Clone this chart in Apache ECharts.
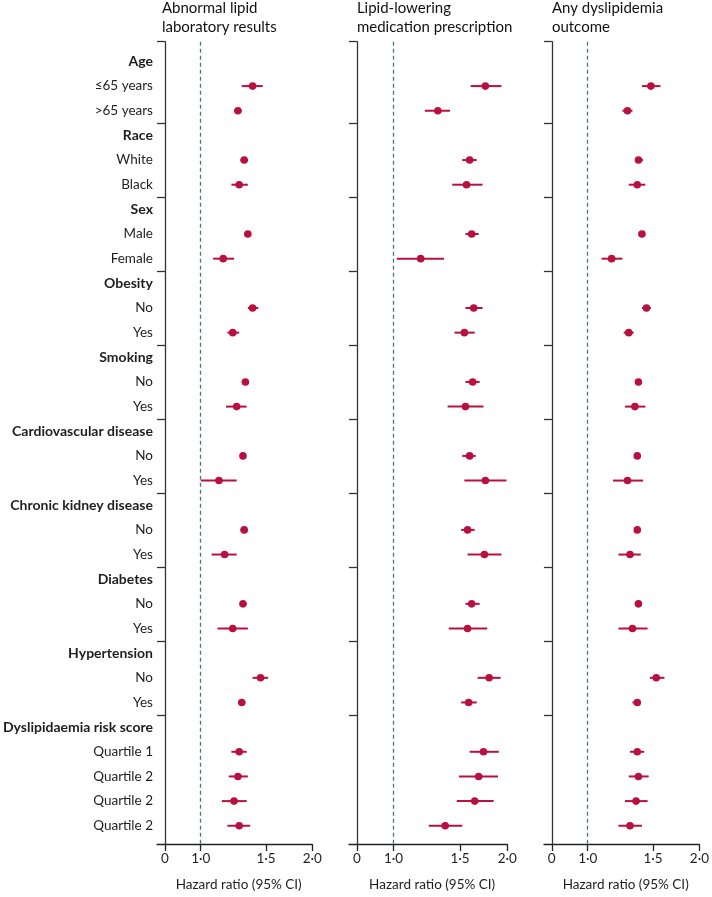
<!DOCTYPE html>
<html><head><meta charset="utf-8">
<script src="https://cdn.jsdelivr.net/npm/echarts@6/dist/echarts.min.js"></script>
<style>html,body{margin:0;padding:0;background:#fff}#chart{width:712px;height:897px}</style>
</head><body><div id="chart"></div>
<script>
const rowLabels = ['Age','≤65 years','>65 years','Race','White','Black','Sex','Male','Female',
  'Obesity','No','Yes','Smoking','No','Yes','Cardiovascular disease','No','Yes',
  'Chronic kidney disease','No','Yes','Diabetes','No','Yes','Hypertension','No','Yes',
  'Dyslipidaemia risk score','Quartile 1','Quartile 2','Quartile 2','Quartile 2'];
const headerRows = ['Age','Race','Sex','Obesity','Smoking','Cardiovascular disease',
  'Chronic kidney disease','Diabetes','Hypertension','Dyslipidaemia risk score'];
const panelTitles = ['Abnormal lipid\nlaboratory results','Lipid-lowering\nmedication prescription','Any dyslipidemia\noutcome'];

const labHR   = [null,1.38,1.26,null,1.31,1.27,null,1.34,1.15,null,1.38,1.22,null,1.32,1.25,null,1.30,1.12,null,1.31,1.16,null,1.30,1.22,null,1.45,1.29,null,1.27,1.26,1.23,1.27];
const labLow  = [null,1.29,1.23,null,1.28,1.21,null,1.31,1.08,null,1.34,1.18,null,1.29,1.17,null,1.28,1.00,null,1.28,1.07,null,1.28,1.11,null,1.38,1.27,null,1.21,1.19,1.14,1.18];
const labHigh = [null,1.47,1.29,null,1.34,1.34,null,1.36,1.23,null,1.43,1.27,null,1.34,1.33,null,1.32,1.25,null,1.34,1.25,null,1.33,1.34,null,1.52,1.32,null,1.33,1.34,1.33,1.36];

const medHR   = [null,1.75,1.31,null,1.59,1.56,null,1.61,1.18,null,1.63,1.54,null,1.62,1.55,null,1.59,1.75,null,1.57,1.74,null,1.61,1.57,null,1.79,1.58,null,1.73,1.68,1.64,1.37];
const medLow  = [null,1.60,1.21,null,1.52,1.43,null,1.55,1.02,null,1.55,1.45,null,1.55,1.39,null,1.52,1.54,null,1.51,1.57,null,1.55,1.40,null,1.67,1.51,null,1.59,1.49,1.47,1.24];
const medHigh = [null,1.93,1.41,null,1.66,1.72,null,1.68,1.36,null,1.72,1.64,null,1.69,1.73,null,1.65,1.99,null,1.64,1.93,null,1.69,1.77,null,1.92,1.66,null,1.90,1.89,1.84,1.52];

const anyHR   = [null,1.48,1.28,null,1.37,1.36,null,1.40,1.16,null,1.44,1.29,null,1.37,1.34,null,1.36,1.28,null,1.36,1.30,null,1.37,1.32,null,1.53,1.36,null,1.36,1.37,1.35,1.30];
const anyLow  = [null,1.40,1.24,null,1.35,1.29,null,1.37,1.09,null,1.40,1.25,null,1.35,1.26,null,1.34,1.17,null,1.34,1.21,null,1.34,1.21,null,1.47,1.32,null,1.30,1.29,1.26,1.21];
const anyHigh = [null,1.57,1.32,null,1.41,1.43,null,1.43,1.24,null,1.48,1.33,null,1.40,1.43,null,1.38,1.41,null,1.39,1.39,null,1.40,1.45,null,1.61,1.39,null,1.42,1.46,1.45,1.40];

const xTickValues = [0.8, 1.0, 1.5, 2.0];
const xTickLabels = ['0', '1·0', '1·5', '2·0'];
const referenceHR = 1.0;

const FONT = 'Lato, "Noto Sans", sans-serif';
const RED = '#b8103f';
const TXT = '#1e1e1e';
const panels = [[labHR,labLow,labHigh],[medHR,medLow,medHigh],[anyHR,anyLow,anyHigh]];
const lg = v => Math.log2(v);
const xMin = lg(0.8) - 0.0695;
const yMin = -0.8, yMax = 31.74;
const headerIdx = new Set(rowLabels.map((t,i)=>headerRows.includes(t)?i:-1).filter(i=>i>=0));
const groupTicks = [yMin].concat([...headerIdx].filter(i=>i>0).map(i=>i-0.5));
const rowIdx = rowLabels.map((_,i)=>i);

const grids = [], xAxes = [], yAxes = [], series = [], titles = [];
panels.forEach((p, k) => {
  const left = 154 + 195*k;
  grids.push({left: left, top: 41.7, width: 158.3, height: 807.3});
  titles.push({text: panelTitles[k], left: left + 7.9, top: -1, padding: 0,
    textStyle:{fontFamily: FONT, fontSize: 15, fontWeight: 'normal', color: '#111', lineHeight: 19}});
  xAxes.push({type:'value', gridIndex:k, min:xMin, max:lg(2.0),
    axisLine:{show:true, onZero:false, lineStyle:{color:'#222', width:1.3}},
    axisTick:{show:true, length:7, customValues: xTickValues.map(lg), lineStyle:{color:'#222', width:1.3}},
    axisLabel:{customValues: xTickValues.map(lg), margin:8, fontFamily:FONT, fontSize:13.5, color:TXT,
      formatter: v => { const j = xTickValues.findIndex(t=>Math.abs(lg(t)-v)<1e-6); return j>=0?xTickLabels[j]:''; }},
    splitLine:{show:false},
    name:'Hazard ratio (95% CI)', nameLocation:'middle', nameGap:34,
    nameTextStyle:{fontFamily:FONT, fontSize:13.5, color:TXT, padding:[0,0,0,8]}
  });
  yAxes.push({type:'value', gridIndex:k, inverse:true, min:yMin, max:yMax, offset:-7.9,
    axisLine:{show:true, onZero:false, lineStyle:{color:'#333', width:1.3}},
    axisTick:{show:true, length:8, customValues: groupTicks, lineStyle:{color:'#333', width:1.3}},
    axisLabel:{show: k===0, customValues: rowIdx, margin:12,
      formatter: v => { const i = Math.round(v); const t = rowLabels[i]; return headerIdx.has(i) ? '{h|'+t+'}' : '{n|'+t+'}'; },
      rich:{h:{fontFamily:FONT, fontSize:14, fontWeight:'bold', color:TXT},
            n:{fontFamily:FONT, fontSize:13.5, color:TXT}}},
    splitLine:{show:false}
  });
  const data = [];
  p[0].forEach((hr,i)=>{ if(hr!=null) data.push([lg(hr), lg(p[1][i]), lg(p[2][i]), i]); });
  series.push({type:'custom', xAxisIndex:k, yAxisIndex:k, data:data, clip:false,
    encode:{x:[0,1,2], y:3},
    renderItem:(params, api) => {
      const y = api.value(3);
      const c = api.coord([api.value(0), y]);
      const l = api.coord([api.value(1), y]);
      const h = api.coord([api.value(2), y]);
      return {type:'group', children:[
        {type:'line', shape:{x1:l[0], y1:l[1], x2:h[0], y2:h[1]}, style:{stroke:RED, lineWidth:2}},
        {type:'circle', shape:{cx:c[0], cy:c[1], r:3.8}, style:{fill:RED}}
      ]};
    },
    markLine:{silent:true, symbol:'none', label:{show:false}, animation:false,
      lineStyle:{type:[4,3], color:'#4a7686', width:1.3},
      data:[{xAxis: lg(referenceHR)}]}
  });
});

const chart = echarts.init(document.getElementById('chart'), null, {renderer:'canvas'});
chart.setOption({animation:false, backgroundColor:'#fff', title:titles, grid:grids, xAxis:xAxes, yAxis:yAxes, series:series});
</script></body></html>
